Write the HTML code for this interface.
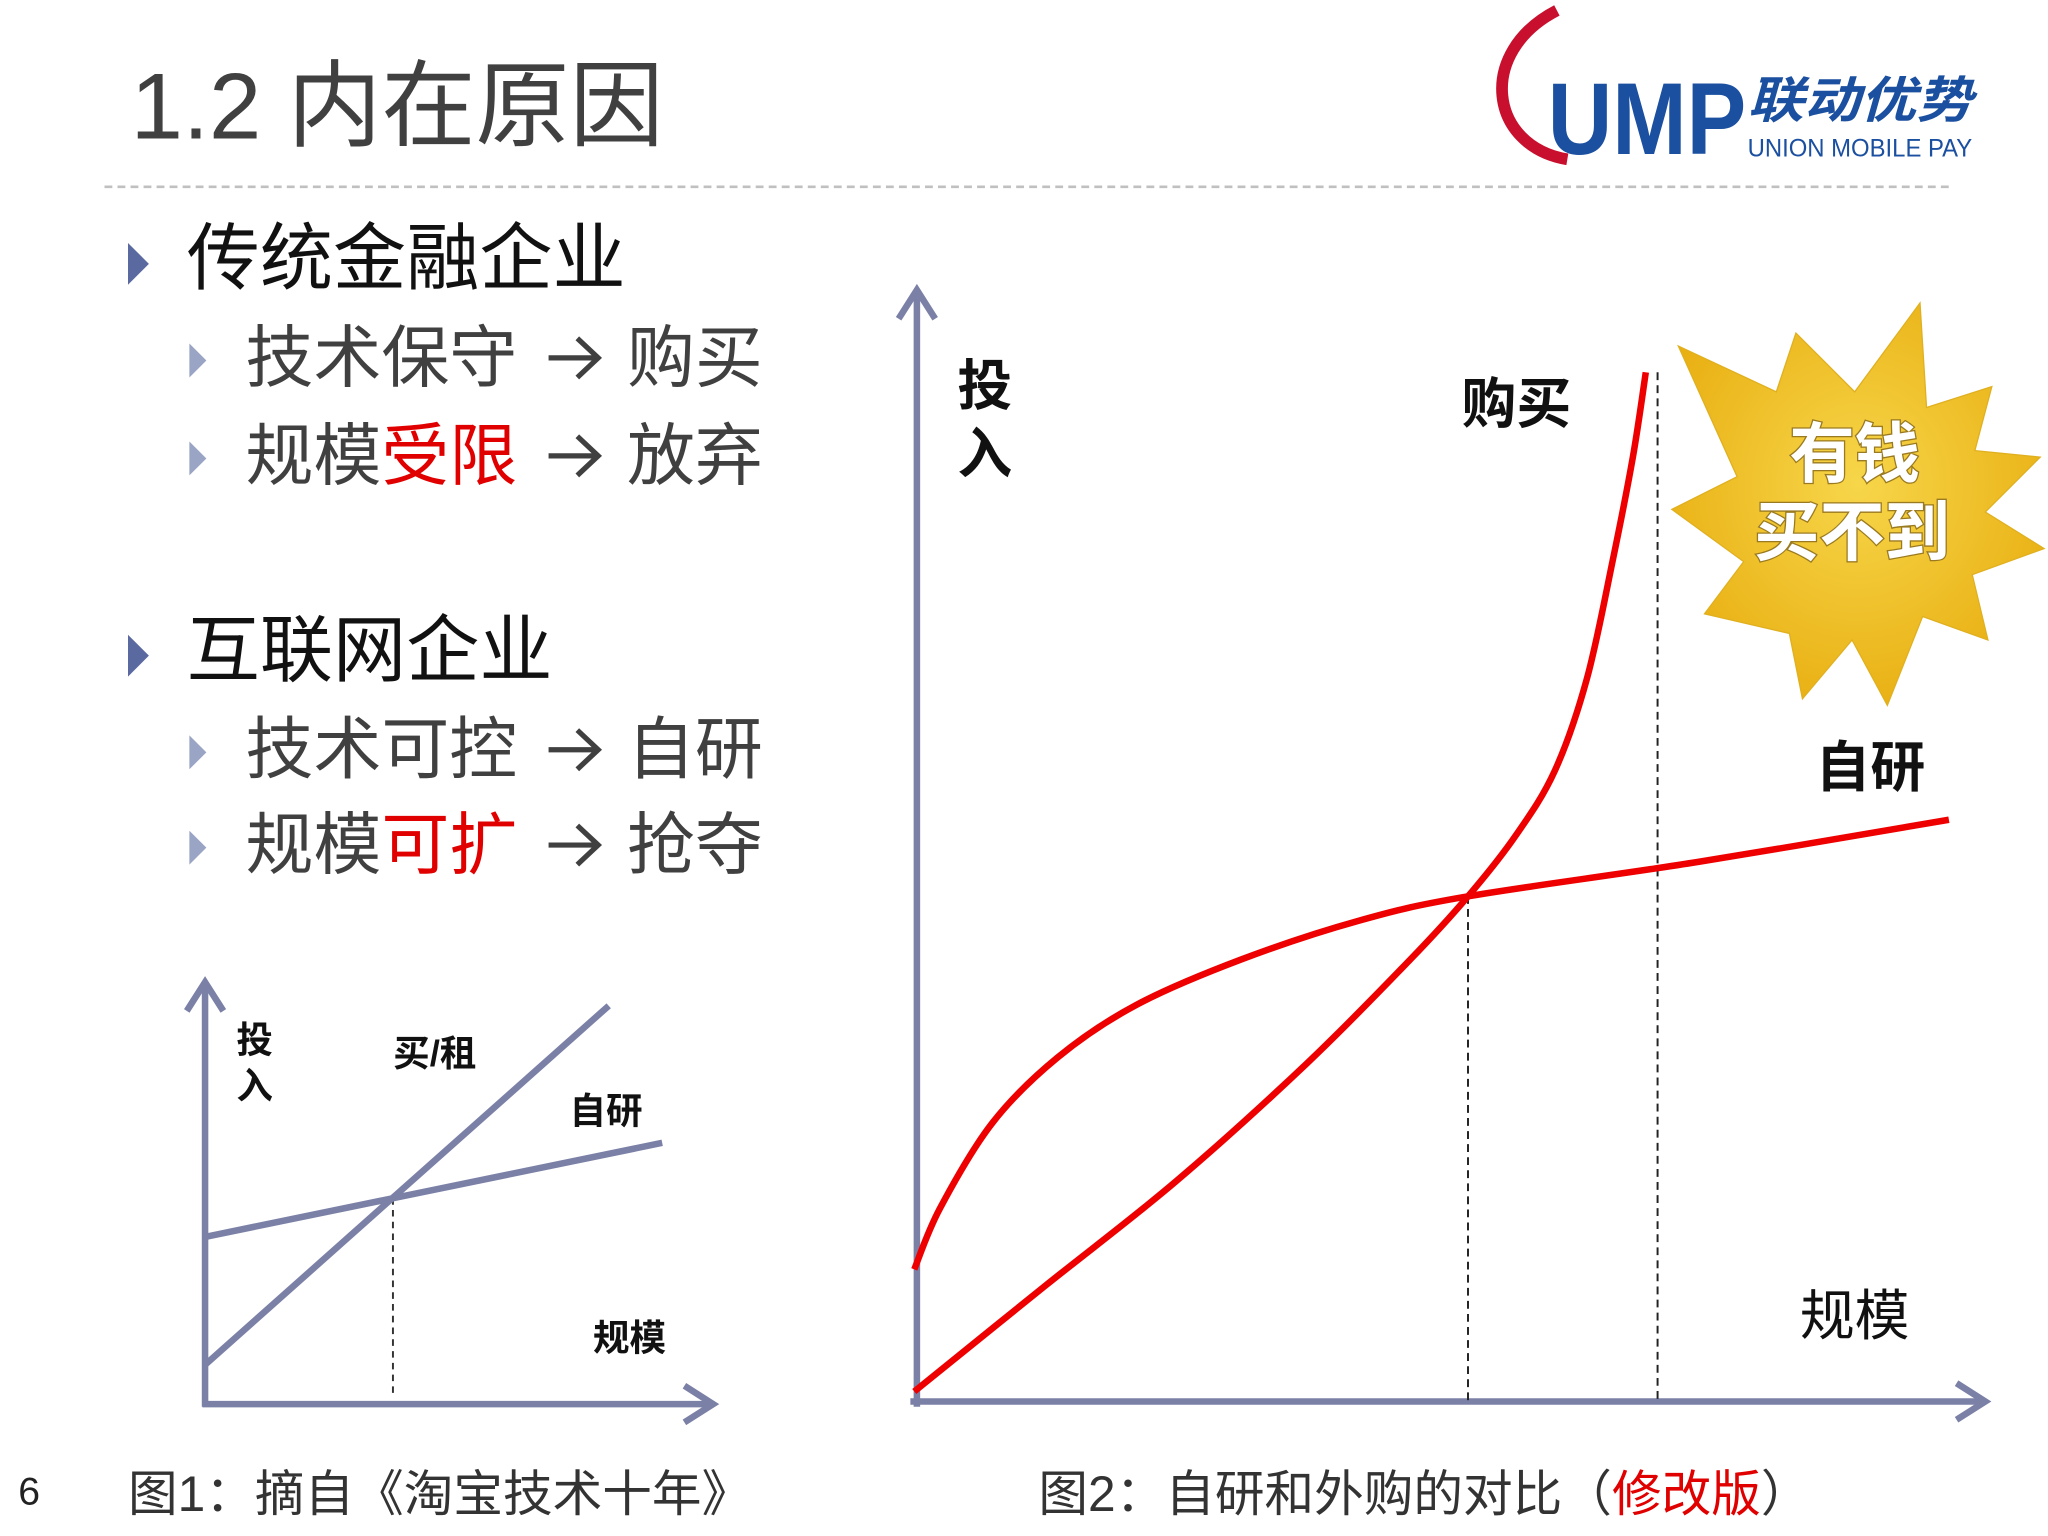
<!DOCTYPE html>
<html><head><meta charset="utf-8">
<style>
html,body{margin:0;padding:0;background:#fff;width:2048px;height:1536px;overflow:hidden}
#stage{position:absolute;left:0;top:0;width:1568px;height:1176px;transform:scale(1.306122);transform-origin:0 0;font-family:"Liberation Sans","Noto Sans CJK SC",sans-serif}
.t{position:absolute;white-space:nowrap;line-height:1}
.tri{position:absolute;width:0;height:0;border-top:16px solid transparent;border-bottom:16px solid transparent;border-left:16px solid #5a6aa0}
.tri.s{border-top:13px solid transparent;border-bottom:13px solid transparent;border-left:13px solid #9aa4c4}
.r{color:#e00000}
.ar{display:inline-block;width:60px;height:40px;vertical-align:-2px;margin:0 10px 0 14px}
</style></head>
<body>
<div id="stage">
<div class="t" style="left:100px;top:46px;font-size:72px;color:#404040">1.2 内在原因</div>
<div style="position:absolute;left:80px;top:142px;width:1412px;border-top:2px dashed #c0c0c0"></div>

<svg style="position:absolute;left:1130px;top:0" width="438" height="140">
 <path d="M70 122 C10 112 0 40 62 8" fill="none" stroke="#c8102e" stroke-width="9"/>
 <text x="55" y="118" textLength="152" lengthAdjust="spacingAndGlyphs" font-family="Liberation Sans" font-weight="bold" font-size="78" fill="#1b4fa0">UMP</text>
 <text x="208" y="90" textLength="172" lengthAdjust="spacingAndGlyphs" font-family="Liberation Sans,Noto Sans CJK SC" font-weight="bold" font-style="italic" font-size="38" fill="#1b4fa0">联动优势</text>
 <text x="208" y="120" textLength="172" lengthAdjust="spacingAndGlyphs" font-family="Liberation Sans" font-size="19" fill="#1b4fa0">UNION MOBILE PAY</text>
</svg>

<div class="tri" style="left:98px;top:186px"></div>
<div class="t" style="left:143px;top:170px;font-size:56px;color:#111">传统金融企业</div>
<div class="tri s" style="left:145px;top:263px"></div>
<div class="t" style="left:188px;top:249px;font-size:52px;color:#404040">技术保守<svg class="ar" viewBox="0 0 44 40"><path d="M2 20H40M24 5L40 20L24 35" fill="none" stroke="#404040" stroke-width="4"/></svg>购买</div>
<div class="tri s" style="left:145px;top:338px"></div>
<div class="t" style="left:188px;top:324px;font-size:52px;color:#404040">规模<span class="r">受限</span><svg class="ar" viewBox="0 0 44 40"><path d="M2 20H40M24 5L40 20L24 35" fill="none" stroke="#404040" stroke-width="4"/></svg>放弃</div>

<div class="tri" style="left:98px;top:486px"></div>
<div class="t" style="left:143px;top:470px;font-size:56px;color:#111">互联网企业</div>
<div class="tri s" style="left:145px;top:563px"></div>
<div class="t" style="left:188px;top:549px;font-size:52px;color:#404040">技术可控<svg class="ar" viewBox="0 0 44 40"><path d="M2 20H40M24 5L40 20L24 35" fill="none" stroke="#404040" stroke-width="4"/></svg>自研</div>
<div class="tri s" style="left:145px;top:636px"></div>
<div class="t" style="left:188px;top:622px;font-size:52px;color:#404040">规模<span class="r">可扩</span><svg class="ar" viewBox="0 0 44 40"><path d="M2 20H40M24 5L40 20L24 35" fill="none" stroke="#404040" stroke-width="4"/></svg>抢夺</div>

<svg id="chart" style="position:absolute;left:0;top:0" width="1568" height="1176"></svg>

<div class="t" style="left:14px;top:1128px;font-size:30px;color:#222">6</div>
<div class="t" style="left:98px;top:1126px;font-size:38px;color:#333">图1：摘自《淘宝技术十年》</div>
<div class="t" style="left:795px;top:1126px;font-size:38px;color:#333">图2：自研和外购的对比（<span class="r">修改版</span>）</div>
</div>
<script>
// ---- Figure 1 (small chart) data ----
const smallSelfX=[0,100];
const smallSelfY=[40,62.5];
const smallBuyX=[0,88.3];
const smallBuyY=[9.4,95.3];
const smallCrossX=[41.1];
// ---- Figure 2 (big chart) data ----
const buyX=[0,12.2,24.4,36.6,46.3,51.7,56.1,59.8,62.8,65.2,67.1,68.3];
const buyY=[0.9,10.4,19.8,30.4,39.8,45.5,50.9,56.8,65.1,75.7,85.1,92.7];
const selfX=[0,2.4,7.3,13.4,20.7,30.5,41.5,51.7,73.2,96.6];
const selfY=[11.9,17.4,25.1,31.0,35.7,39.8,43.3,45.5,48.6,52.4];
const markerX=[51.7,69.4];

const NS="http://www.w3.org/2000/svg";
const svg=document.getElementById('chart');
function mk(tag,attrs,parent){const e=document.createElementNS(NS,tag);for(const k in attrs)e.setAttribute(k,attrs[k]);(parent||svg).appendChild(e);return e;}
const axisCol="#7b80a6";
const sx=v=>157+v*3.5, sy=v=>1075-v*3.2;
const bx=v=>700+v*8.2, by=v=>1073-v*8.5;

function arrowAxis(x1,y1,x2,y2,name){
 const l=mk('line',{x1,y1,x2,y2,stroke:axisCol,'stroke-width':5});
 
 
 const dx=x2-x1,dy=y2-y1,len=Math.hypot(dx,dy),ux=dx/len,uy=dy/len;
 const p=`M${x2-ux*22+uy*14},${y2-uy*22-ux*14} L${x2},${y2} L${x2-ux*22-uy*14},${y2-uy*22+ux*14}`;
 const a=mk('path',{d:p,fill:'none',stroke:axisCol,'stroke-width':5});
 
 
}
arrowAxis(157,1077,157,752,'fig1-y-axis');
arrowAxis(155,1075,546,1075,'fig1-x-axis');
let l=mk('line',{x1:sx(smallCrossX[0]),y1:sy(smallSelfY[0]+(smallSelfY[1]-smallSelfY[0])*smallCrossX[0]/100),x2:sx(smallCrossX[0]),y2:1070,stroke:'#333','stroke-width':1.5,'stroke-dasharray':'5,4'});


l=mk('line',{x1:sx(smallSelfX[0]),y1:sy(smallSelfY[0]),x2:sx(smallSelfX[1]),y2:sy(smallSelfY[1]),stroke:axisCol,'stroke-width':5});


l=mk('line',{x1:sx(smallBuyX[0]),y1:sy(smallBuyY[0]),x2:sx(smallBuyX[1]),y2:sy(smallBuyY[1]),stroke:axisCol,'stroke-width':5});



function label(x,y,txt,size,name,extra){
 const t=mk('text',Object.assign({x,y,'font-size':size,'font-weight':'bold',fill:'#111','font-family':'Liberation Sans, Noto Sans CJK SC, sans-serif'},extra||{}));
 t.textContent=txt;
 
 
 return t;
}
label(181,806,'投',28,'fig1-y-label-1');
label(181,841,'入',28,'fig1-y-label-2');
label(301,816,'买/租',28,'fig1-buy-label');
label(436,860,'自研',28,'fig1-self-label');
label(454,1034,'规模',28,'fig1-x-label');

arrowAxis(702,1077,702,222,'fig2-y-axis');
arrowAxis(697,1073,1520,1073,'fig2-x-axis');
markerX.forEach((m,i)=>{
 const d=mk('line',{x1:bx(m),y1:i?285:686,x2:bx(m),y2:1073,stroke:'#222','stroke-width':1.5,'stroke-dasharray':'6,4'});
 
 
});
function smooth(xs,ys){
 const P=xs.map((x,i)=>[bx(x),by(ys[i])]);
 let d=`M${P[0][0]},${P[0][1]}`;
 for(let i=0;i<P.length-1;i++){
  const p0=P[i-1]||P[i],p1=P[i],p2=P[i+1],p3=P[i+2]||P[i+1];
  d+=` C${p1[0]+(p2[0]-p0[0])/6},${p1[1]+(p2[1]-p0[1])/6} ${p2[0]-(p3[0]-p1[0])/6},${p2[1]-(p3[1]-p1[1])/6} ${p2[0]},${p2[1]}`;
 }
 return d;
}
let c=mk('path',{d:smooth(selfX,selfY),fill:'none',stroke:'#ee0000','stroke-width':5});


c=mk('path',{d:smooth(buyX,buyY),fill:'none',stroke:'#ee0000','stroke-width':5});


label(733,310,'投',42,'fig2-y-label-1');
label(733,362,'入',42,'fig2-y-label-2');
label(1119,324,'购买',42,'fig2-buy-label');
label(1390,602,'自研',42,'fig2-self-label');
label(1378,1022,'规模',42,'fig2-x-label',{'font-weight':'normal'});

const defs=mk('defs',{});
const g=mk('radialGradient',{id:'sg',cx:'50%',cy:'45%',r:'60%'},defs);
mk('stop',{offset:'0%','stop-color':'#f7d64a'},g);
mk('stop',{offset:'100%','stop-color':'#e8ae10'},g);
const pts=[[1470,232],[1475,312],[1525,296],[1512,345],[1562,350],[1520,392],[1565,420],[1510,440],[1522,490],[1472,472],[1445,540],[1418,490],[1380,535],[1370,485],[1305,470],[1335,430],[1280,390],[1330,365],[1285,265],[1360,300],[1375,255],[1420,300]];
const s=mk('polygon',{points:pts.map(p=>p.join(',')).join(' '),fill:'url(#sg)',stroke:'#e0b020','stroke-width':1});


label(1370,365,'有钱',50,'starburst-text-1',{fill:'#fff',style:'paint-order:stroke',stroke:'#9a7a20','stroke-width':2});
label(1343,425,'买不到',50,'starburst-text-2',{fill:'#fff',style:'paint-order:stroke',stroke:'#9a7a20','stroke-width':2});
</script>
</body></html>
